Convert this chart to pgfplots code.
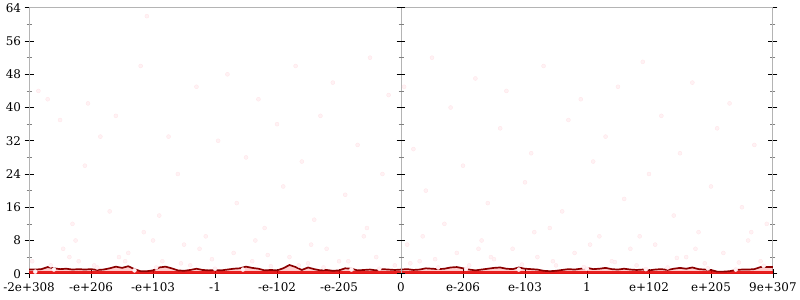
\documentclass[border=0pt]{standalone}
\usepackage{pgfplots}
\pgfplotsset{compat=1.18}
\usepackage{fontspec}
\setmainfont{DejaVu Serif}
\definecolor{darkred}{RGB}{139,0,0}
\definecolor{axgray}{RGB}{180,180,180}
\definecolor{dotc}{RGB}{255,242,244}
\definecolor{dotd}{RGB}{255,230,234}
\begin{document}
\begin{tikzpicture}
\begin{axis}[
  name=main,
  scale only axis, width=747pt, height=267pt,
  xmin=-6, xmax=6, ymin=0, ymax=64,
  xtick={-6,-5,...,6},
  xticklabels={-2e+308,-e+206,-e+103,-1,-e-102,-e-205,0,e-206,e-103,1,e+102,e+205,9e+307},
  ytick={0,8,...,64},
  minor ytick={4,12,...,60},
  xtick pos=left, ytick pos=both,
  tick align=center,
  major tick length=9pt, minor tick length=5pt,
  every major tick/.style={black, line width=0.8pt},
  every minor tick/.style={gray, line width=0.6pt},
  axis line style={axgray, line width=1pt},
  tick label style={font=\fontsize{12}{14}\selectfont},
  xticklabel style={yshift=-1pt},
  /pgf/number format/assume math mode=true,
  clip=false,
]
% scatter of samples (very faint)
\addplot[only marks, mark=*, mark size=2pt, mark options={draw=dotd, fill=dotc, line width=0.4pt}] table {
x y
-5.9 0.5
-5.85 44
-5.7 42
-5.65 2
-5.5 37
-5.45 6
-5.3 12
-5.2 3
-5.1 26
-5.05 41
-4.9 1.5
-4.85 33
-4.7 15
-4.6 38
-4.55 4
-4.4 5
-4.3 0.8
-4.2 50
-4.1 62
-4.0 8
-3.9 14
-3.85 3
-3.75 33
-3.6 24
-3.5 7
-3.4 2
-3.3 45
-3.15 9
-3.0 1.2
-2.95 32
-2.8 48
-2.7 5
-2.65 17
-2.5 28
-2.4 3
-2.3 42
-2.2 11
-2.1 1.8
-2.0 36
-1.9 21
-1.8 4
-1.7 50
-1.6 27
-1.5 2.5
-1.4 13
-1.3 38
-1.2 6
-1.1 46
-1.0 3
-0.9 19
-0.8 1
-0.7 31
-0.6 9
-0.5 52
-0.4 4
-0.3 24
-0.2 43
-0.1 2
0.05 45
0.1 7
0.2 30
0.3 3
0.4 20
0.5 52
0.6 1.5
0.7 12
0.8 40
0.9 5
1.0 26
1.1 2
1.2 47
1.3 8
1.4 17
1.5 3.5
1.6 35
1.7 44
1.8 6
1.9 1
2.0 22
2.1 29
2.2 4
2.3 50
2.4 11
2.5 2
2.6 15
2.7 37
2.8 5
2.9 42
3.0 1.2
3.1 27
3.2 9
3.3 33
3.4 3
3.5 45
3.6 18
3.7 6
3.8 2
3.9 51
4.0 24
4.1 7
4.2 38
4.3 1.5
4.4 14
4.5 29
4.6 4
4.7 46
4.8 10
4.9 2.5
5.0 21
5.1 35
5.2 5
5.3 41
5.4 1
5.5 16
5.6 8
5.7 31
5.8 3
5.9 12
-5.95 3
-5.6 1
-5.35 4
-4.95 2
-4.45 3
-3.95 1.5
-3.55 2.5
-3.05 3.5
-2.55 1
-2.15 4.5
-1.65 2
-1.25 1.5
-0.85 3
-0.35 1.2
0.15 2.5
0.55 3.5
1.05 1.2
1.45 4
1.95 2.2
2.45 3
2.95 1.6
3.45 2.8
3.95 1.1
4.45 3.8
4.95 1.3
5.45 2.7
5.85 1.9
-5.25 8
-4.15 10
-3.25 6
-2.35 8
-1.45 7
-0.55 11
0.35 9
1.25 6
2.15 10
3.05 7
3.85 9
4.75 6
5.65 10
};
% fill between zero and the mean line
\addplot[draw=none, fill=red, fill opacity=0.2] table {
x y
-6.0 1.0
-5.9 1.0
-5.8 1.1
-5.7 1.6
-5.6 1.3
-5.5 1.1
-5.4 1.2
-5.3 1.0
-5.2 1.1
-5.1 1.0
-5.0 1.1
-4.9 0.9
-4.8 1.0
-4.7 1.3
-4.6 1.7
-4.5 1.4
-4.4 1.8
-4.3 1.1
-4.2 0.6
-4.1 0.6
-4.0 0.8
-3.9 1.5
-3.8 1.7
-3.7 1.3
-3.6 0.8
-3.5 0.7
-3.4 0.9
-3.3 1.2
-3.2 0.9
-3.1 0.8
-3.0 0.9
-2.9 0.8
-2.8 1.0
-2.7 1.2
-2.6 1.3
-2.5 1.7
-2.4 1.4
-2.3 1.2
-2.2 0.8
-2.1 0.9
-2.0 0.8
-1.9 1.3
-1.8 2.1
-1.7 1.6
-1.6 0.9
-1.5 1.5
-1.4 1.1
-1.3 0.8
-1.2 0.9
-1.1 0.7
-1.0 0.8
-0.9 1.3
-0.8 1.2
-0.7 0.8
-0.6 0.9
-0.5 1.0
-0.4 0.8
-0.3 1.1
-0.2 1.0
-0.1 0.9
0.0 1.0
0.1 1.1
0.2 0.9
0.3 1.0
0.4 1.3
0.5 1.2
0.6 1.1
0.7 1.2
0.8 1.5
0.9 1.6
1.0 1.3
1.1 1.0
1.2 0.8
1.3 1.0
1.4 1.2
1.5 1.4
1.6 1.5
1.7 1.2
1.8 1.1
1.9 1.5
2.0 1.2
2.1 1.1
2.2 1.0
2.3 0.7
2.4 0.6
2.5 0.7
2.6 0.9
2.7 1.1
2.8 1.0
2.9 1.2
3.0 1.4
3.1 1.1
3.2 1.2
3.3 1.4
3.4 1.1
3.5 1.0
3.6 1.2
3.7 1.0
3.8 0.9
3.9 1.0
4.0 0.8
4.1 1.0
4.2 1.1
4.3 0.9
4.4 1.2
4.5 1.4
4.6 1.2
4.7 1.5
4.8 1.1
4.9 1.0
5.0 0.9
5.1 0.5
5.2 0.5
5.3 0.6
5.4 0.9
5.5 1.0
5.6 1.0
5.7 1.1
5.8 1.6
5.9 1.6
6.0 1.6
} \closedcycle;
% red band at zero
\addplot[red!90!black, line width=2.5pt, opacity=0.85] coordinates {(-6,0.3) (6,0.3)};
% mean line
\addplot[darkred, line width=1.7pt] table {
x y
-6.0 1.0
-5.9 1.0
-5.8 1.1
-5.7 1.6
-5.6 1.3
-5.5 1.1
-5.4 1.2
-5.3 1.0
-5.2 1.1
-5.1 1.0
-5.0 1.1
-4.9 0.9
-4.8 1.0
-4.7 1.3
-4.6 1.7
-4.5 1.4
-4.4 1.8
-4.3 1.1
-4.2 0.6
-4.1 0.6
-4.0 0.8
-3.9 1.5
-3.8 1.7
-3.7 1.3
-3.6 0.8
-3.5 0.7
-3.4 0.9
-3.3 1.2
-3.2 0.9
-3.1 0.8
-3.0 0.9
-2.9 0.8
-2.8 1.0
-2.7 1.2
-2.6 1.3
-2.5 1.7
-2.4 1.4
-2.3 1.2
-2.2 0.8
-2.1 0.9
-2.0 0.8
-1.9 1.3
-1.8 2.1
-1.7 1.6
-1.6 0.9
-1.5 1.5
-1.4 1.1
-1.3 0.8
-1.2 0.9
-1.1 0.7
-1.0 0.8
-0.9 1.3
-0.8 1.2
-0.7 0.8
-0.6 0.9
-0.5 1.0
-0.4 0.8
-0.3 1.1
-0.2 1.0
-0.1 0.9
0.0 1.0
0.1 1.1
0.2 0.9
0.3 1.0
0.4 1.3
0.5 1.2
0.6 1.1
0.7 1.2
0.8 1.5
0.9 1.6
1.0 1.3
1.1 1.0
1.2 0.8
1.3 1.0
1.4 1.2
1.5 1.4
1.6 1.5
1.7 1.2
1.8 1.1
1.9 1.5
2.0 1.2
2.1 1.1
2.2 1.0
2.3 0.7
2.4 0.6
2.5 0.7
2.6 0.9
2.7 1.1
2.8 1.0
2.9 1.2
3.0 1.4
3.1 1.1
3.2 1.2
3.3 1.4
3.4 1.1
3.5 1.0
3.6 1.2
3.7 1.0
3.8 0.9
3.9 1.0
4.0 0.8
4.1 1.0
4.2 1.1
4.3 0.9
4.4 1.2
4.5 1.4
4.6 1.2
4.7 1.5
4.8 1.1
4.9 1.0
5.0 0.9
5.1 0.5
5.2 0.5
5.3 0.6
5.4 0.9
5.5 1.0
5.6 1.0
5.7 1.1
5.8 1.6
5.9 1.6
6.0 1.6
};
% central vertical axis at x = 0 with ticks
\draw[axgray, line width=1pt] (axis cs:0,0) -- (axis cs:0,64);
\pgfplotsinvokeforeach{0,8,16,24,32,40,48,56,64}{
  \draw[black, line width=0.8pt] ([xshift=-4.5pt]axis cs:0,#1) -- ([xshift=4.5pt]axis cs:0,#1);
}
\pgfplotsinvokeforeach{4,12,20,28,36,44,52,60}{
  \draw[gray, line width=0.6pt] ([xshift=-2.5pt]axis cs:0,#1) -- ([xshift=2.5pt]axis cs:0,#1);
}
\end{axis}
\path ([shift={(-27pt,-26pt)}]main.south west) rectangle ([shift={(26pt,7pt)}]main.north east);
\end{tikzpicture}
\end{document}
